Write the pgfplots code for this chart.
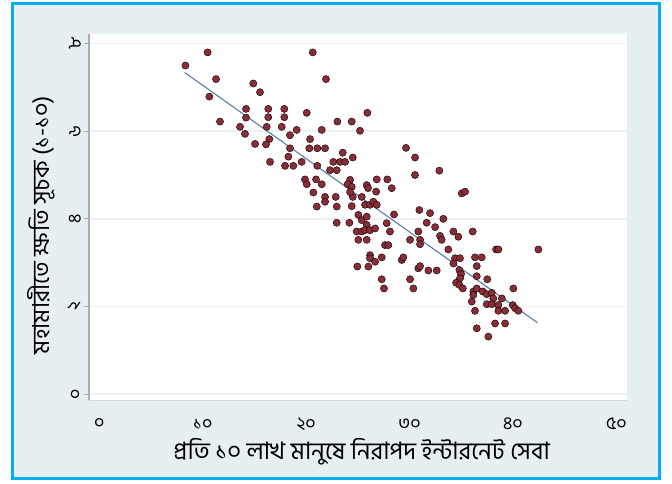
\documentclass[border=0pt]{standalone}
\usepackage{pgfplots}
\pgfplotsset{compat=1.18}
\usepackage{pgfplotstable}
\usepackage{fontspec}
\setmainfont[Script=Bengali]{Hind Siliguri}
\newfontfamily\bn[Script=Bengali]{Hind Siliguri}
\definecolor{bgc}{HTML}{E6EFF1}
\definecolor{bordc}{HTML}{00B0F0}
\definecolor{dotc}{HTML}{8B2C36}
\definecolor{linec}{HTML}{5B7FA3}
\definecolor{gridc}{HTML}{EAF2F4}
\pgfplotstableread{
x y
8.33 7.50
10.48 7.80
11.29 7.19
10.64 6.79
11.67 6.22
14.89 7.09
15.54 6.89
20.64 7.80
21.92 7.19
14.19 6.51
14.19 6.31
13.61 6.10
14.09 5.94
15.06 5.71
16.34 6.51
16.34 6.32
16.19 6.10
17.89 6.51
17.89 6.32
17.64 6.10
19.09 6.03
18.44 5.91
16.44 5.82
16.12 5.70
20.06 6.42
16.51 5.30
18.44 5.61
18.28 5.42
17.96 5.21
18.76 5.21
19.57 5.30
20.38 5.82
20.31 5.61
21.08 5.61
21.83 5.61
21.51 6.03
23.02 6.22
24.41 6.22
25.21 6.01
25.92 6.42
23.54 5.51
24.51 5.40
22.63 5.30
23.28 5.30
23.76 5.30
21.08 5.21
22.31 5.11
22.96 5.11
19.89 4.90
20.06 4.79
20.96 4.90
21.51 4.79
20.70 4.60
21.83 4.50
22.86 4.50
21.83 4.39
24.25 4.89
24.02 4.79
24.41 4.73
25.86 4.77
24.51 4.50
25.38 4.50
21.03 4.28
22.96 4.28
24.41 4.29
30.53 5.40
30.53 5.00
32.88 5.10
24.25 4.61
25.99 4.70
26.83 4.90
27.85 4.90
28.28 4.70
26.77 4.62
25.70 4.32
26.18 4.32
26.50 4.39
22.96 3.91
24.18 3.91
25.05 4.09
25.38 3.97
25.86 4.05
25.86 3.86
24.89 3.71
25.38 3.71
25.70 3.74
26.18 3.74
26.67 3.78
25.05 3.52
25.86 3.52
26.83 4.32
27.79 3.90
28.11 3.71
28.50 4.10
27.63 3.40
27.95 3.40
26.18 3.17
26.18 3.10
27.31 3.12
26.67 3.02
26.02 2.91
24.95 2.91
27.31 2.62
27.53 2.41
29.25 3.06
29.40 3.12
30.05 3.52
30.85 3.71
31.02 3.52
31.02 3.42
30.05 2.62
30.37 2.41
30.85 2.87
31.02 2.92
31.82 2.82
32.63 2.82
30.95 4.20
31.98 4.13
31.66 3.91
32.47 3.81
33.27 4.00
32.95 3.61
33.11 3.52
33.75 3.30
34.24 3.71
34.72 3.59
36.11 3.71
35.05 4.58
35.37 4.62
34.40 3.10
34.88 3.10
34.24 2.98
34.82 2.83
34.98 2.74
34.88 2.64
34.50 2.54
34.82 2.49
35.15 2.41
36.33 3.12
36.98 3.12
36.50 2.92
36.50 2.69
37.52 2.62
38.37 3.30
38.59 3.30
42.46 3.30
36.17 2.34
36.17 2.26
36.50 2.41
36.02 2.11
36.33 1.90
37.08 2.34
37.47 2.28
37.95 2.31
38.10 2.18
37.47 2.05
37.95 2.05
38.59 2.03
38.92 2.18
38.59 1.90
39.24 1.90
40.04 2.41
39.98 2.03
40.20 1.96
40.52 1.90
36.50 1.50
38.27 1.61
39.24 1.61
37.62 1.31
29.66 5.62
}\pts
\begin{document}
\begin{tikzpicture}[x=1pt,y=1pt]
\fill[white] (0,0) rectangle (672,483);
\draw[line width=3pt, draw=bordc, fill=bgc] (12.5,4.5) rectangle (659.5,479.5);
\begin{axis}[
  at={(89.3pt,83pt)}, anchor=south west,
  scale only axis, width=537.4pt, height=366pt,
  xmin=-0.967, xmax=51.0, ymin=-0.137, ymax=8.22,
  axis background/.style={fill=white},
  axis lines*=left,
  x axis line style={draw=gray!30, line width=1pt},
  y axis line style={draw=gray!65, line width=2pt},
  tick align=outside,
  major tick length=5pt,
  ytick={0,2,4,6,8},
  yticklabels={০,২,৪,৬,৮},
  ytick style={draw=gray!65, line width=0.8pt},
  ymajorgrids,
  grid style={draw=gridc, line width=1.5pt},
  xtick={0,10,20,30,40,50},
  xticklabels={০,১০,২০,৩০,৪০,৫০},
  xtick style={draw=none},
  extra x ticks={0,12.5,25,37.5,50},
  extra x tick labels={},
  extra x tick style={xmajorgrids=false, tick style={draw=gray!65, line width=0.8pt, yshift=-3pt}},
  ticklabel style={font=\fontsize{18}{20}\selectfont\bn, text=black},
  yticklabel style={rotate=90, anchor=south},
  xticklabel style={anchor=center, yshift=-19pt},
  xlabel={প্রতি ১০ লাখ মানুষে নিরাপদ ইন্টারনেট সেবা},
  ylabel={মহামারীতে ক্ষতি সূচক (১-১০)},
  every axis x label/.style={at={(axis description cs:0.507,-0.142)}, anchor=center, font=\fontsize{24}{28}\selectfont\bn},
  every axis y label/.style={at={(axis description cs:-0.090,0.478)}, anchor=center, rotate=90, font=\fontsize{23.5}{27}\selectfont\bn},
  clip=false,
]
\addplot[only marks, mark=*, mark size=3.6pt, mark options={draw=none, fill=dotc}] table[x=x,y=y] {\pts};
\addplot[draw=linec, line width=1.1pt] coordinates {(8.26,7.34) (42.36,1.63)};
\end{axis}
\end{tikzpicture}
\end{document}
